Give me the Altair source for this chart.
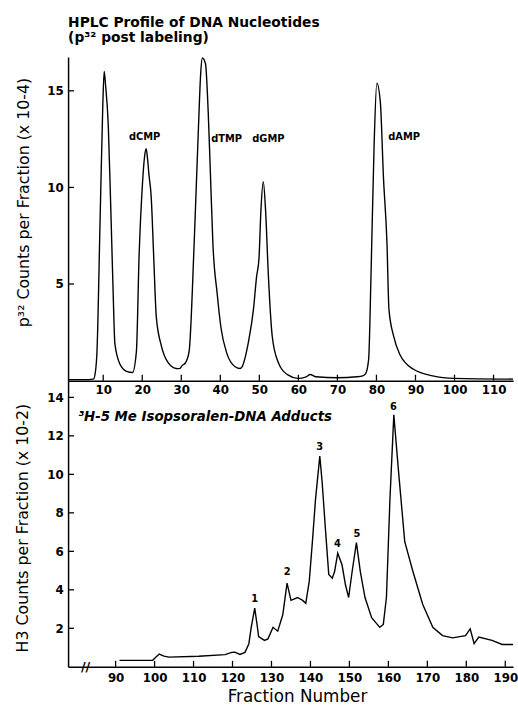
import altair as alt
import pandas as pd

# ---------------- data ----------------
top_x = [1, 5, 7.5, 8.0, 8.4, 9.2, 9.9, 10.25, 10.6, 11.3, 11.9, 12.5, 13.0, 14.3, 16.0, 17.5,
         18.5, 19.2, 20.0, 20.6, 21.0, 21.4, 21.7, 22.3, 22.9, 23.6, 24.9, 26.5, 28.7, 29.5, 30.3,
         31.0, 32.0, 33.3, 34.4, 35.0, 35.4, 36.2, 36.9, 37.5, 38.1, 39.2, 40.2, 41.7, 43.8, 45.1,
         45.5, 47.2, 48.5, 49.3, 49.9, 50.4, 51.0, 51.6, 52.3, 53.3, 54.8, 57.3, 59.9, 62.0, 63.0,
         64.5, 70.0, 75.0, 76.5, 77.2, 78.0, 78.6, 79.4, 80.1, 81.0, 81.8, 82.7, 83.2, 84.4, 86.0,
         89.4, 94.4, 100.0, 115.0]
top_y = [0.05, 0.05, 0.08, 0.45, 1.5, 8.3, 14.3, 16.0, 15.3, 13.2, 9.2, 4.9, 1.9, 0.85, 0.48, 0.42,
         1.5, 6.5, 10.0, 11.6, 12.0, 11.4, 10.7, 9.5, 6.6, 3.3, 1.8, 0.97, 0.63, 0.62, 0.8,
         0.9, 1.5, 7.1, 13.1, 16.0, 16.7, 16.4, 13.9, 10.5, 7.1, 4.5, 2.7, 1.4, 0.72, 0.63,
         0.7, 2.0, 3.7, 5.4, 6.3, 8.8, 10.3, 8.8, 5.5, 2.3, 0.97, 0.3, 0.12, 0.2, 0.32,
         0.2, 0.15, 0.2, 0.25, 0.35, 1.1, 5.4, 12.2, 15.4, 14.4, 10.5, 7.1, 3.7, 2.3, 1.35,
         0.6, 0.25, 0.12, 0.08]

bot_x = [91.0, 99.5, 100.3, 101.2, 102.4, 103.7, 111.3, 118.1, 119.8, 120.6, 121.9, 123.2, 124.2,
         124.8, 125.7, 126.4, 126.7, 128.2, 129.1, 130.4, 131.6, 132.9, 134.0, 135.0, 136.7, 138.0,
         138.8, 139.7, 140.5, 141.3, 142.4, 143.0, 143.9, 144.7, 145.6, 146.2, 147.0, 148.1, 149.0,
         149.8, 150.7, 151.8, 152.8, 154.0, 155.7, 157.8, 158.7, 159.5, 160.4, 161.4, 162.5, 164.2,
         166.3, 168.8, 171.4, 173.9, 176.5, 179.8, 181.0, 182.0, 183.2, 186.6, 189.2, 192.0]
bot_y = [0.33, 0.34, 0.5, 0.66, 0.55, 0.5, 0.55, 0.63, 0.75, 0.76, 0.64, 0.75, 1.2,
         2.05, 3.05, 2.05, 1.57, 1.37, 1.45, 2.05, 1.85, 2.7, 4.35, 3.45, 3.6, 3.45,
         3.3, 4.45, 6.5, 8.7, 10.95, 9.6, 7.0, 4.8, 4.6, 4.95, 5.9, 5.3, 4.25,
         3.6, 4.95, 6.45, 4.95, 3.6, 2.55, 2.05, 2.2, 3.6, 8.7, 13.1, 10.4, 6.5,
         4.95, 3.25, 2.05, 1.62, 1.5, 1.62, 1.97, 1.2, 1.54, 1.37, 1.16, 1.16]

top_labels = ["dCMP", "dTMP", "dGMP", "dAMP"]
top_label_x = [20.6, 41.6, 52.3, 87.1]
top_label_y = [12.6, 12.5, 12.5, 12.6]

bot_labels = ["1", "2", "3", "4", "5", "6"]
bot_label_x = [125.7, 134.0, 142.4, 146.9, 151.9, 161.3]
bot_label_y = [3.5, 4.9, 11.4, 6.4, 6.9, 13.5]

top_xticks = [10, 20, 30, 40, 50, 60, 70, 80, 90, 100, 110]
top_yticks = [5, 10, 15]
bot_xticks = [90, 100, 110, 120, 130, 140, 150, 160, 170, 180, 190]
bot_yticks = [2, 4, 6, 8, 10, 12, 14]

top_title = "HPLC Profile of DNA Nucleotides"
top_subtitle = "(p³² post labeling)"
top_ytitle = "p³² Counts per Fraction (x 10-4)"
bot_ytitle = "H3 Counts per Fraction (x 10-2)"
bot_xtitle = "Fraction Number"
bot_panel_title = ["³H-5 Me Isopsoralen-DNA Adducts"]
bot_panel_title_x = [80.4]
bot_panel_title_y = [12.97]
break_mark = ["//"]
break_x = [82.3]
break_y = [0.0]

# ---------------- frames ----------------
df_top = pd.DataFrame({"x": top_x, "y": top_y})
df_bot = pd.DataFrame({"x": bot_x, "y": bot_y})
df_tl = pd.DataFrame({"x": top_label_x, "y": top_label_y, "t": top_labels})
df_bl = pd.DataFrame({"x": bot_label_x, "y": bot_label_y, "t": bot_labels})
df_txt = pd.DataFrame({"x": top_xticks})
df_tyt = pd.DataFrame({"y": top_yticks})
df_bxt = pd.DataFrame({"x": bot_xticks})
df_byt = pd.DataFrame({"y": bot_yticks})
df_bpt = pd.DataFrame({"x": bot_panel_title_x, "y": bot_panel_title_y, "t": bot_panel_title})
df_brk = pd.DataFrame({"x": break_x, "y": break_y, "t": break_mark})

W = 451
H1 = 328
H2 = 290
FONT = "DejaVu Sans"

xs_top = alt.Scale(domain=[1, 115], nice=False, zero=False)
ys_top = alt.Scale(domain=[0, 16.75], nice=False)
xs_bot = alt.Scale(domain=[77.8, 192], nice=False, zero=False)
ys_bot = alt.Scale(domain=[0, 14.87], nice=False)

common_axis = dict(ticks=False, grid=False, domainColor="black", domainWidth=1.5,
                   labelColor="black", labelFont=FONT, labelFontSize=12,
                   labelFontWeight="bold", titleColor="black", titleFont=FONT,
                   titleFontWeight="normal")

ax_top_x = alt.Axis(values=top_xticks, title=None, labelPadding=4, **common_axis)
ax_top_y = alt.Axis(values=top_yticks, title=top_ytitle, labelPadding=5, titleFontSize=16,
                    titleAngle=270, titleX=-45, titleY=147, titleAlign="center",
                    titleBaseline="middle", **common_axis)
ax_bot_x = alt.Axis(values=bot_xticks, title=bot_xtitle, labelPadding=6, titlePadding=5,
                    titleX=232, titleFontSize=17, **common_axis)
ax_bot_y = alt.Axis(values=bot_yticks, title=bot_ytitle, labelPadding=5, titleFontSize=16,
                    titleAngle=270, titleX=-46, titleY=149, titleAlign="center",
                    titleBaseline="middle", **common_axis)

X_top = lambda f="x": alt.X(f"{f}:Q", scale=xs_top, axis=ax_top_x, title=None)
Y_top = lambda f="y": alt.Y(f"{f}:Q", scale=ys_top, axis=ax_top_y, title=top_ytitle)
X_bot = lambda f="x": alt.X(f"{f}:Q", scale=xs_bot, axis=ax_bot_x, title=bot_xtitle)
Y_bot = lambda f="y": alt.Y(f"{f}:Q", scale=ys_bot, axis=ax_bot_y, title=bot_ytitle)

# ---------------- top panel ----------------
top_line = alt.Chart(df_top).mark_line(color="black", strokeWidth=1.4, interpolate="monotone").encode(
    x=X_top(), y=Y_top())
top_lab = alt.Chart(df_tl).mark_text(font=FONT, fontSize=10, fontWeight="bold", color="black",
                                     baseline="middle").encode(x=X_top(), y=Y_top(), text="t:N")
top_xt = alt.Chart(df_txt).mark_rule(color="black", strokeWidth=1.3).encode(
    x=X_top(), y=alt.value(H1), y2=alt.value(H1 - 6))
top_yt = alt.Chart(df_tyt).mark_rule(color="black", strokeWidth=1.3).encode(
    y=Y_top(), x=alt.value(0), x2=alt.value(6))

top = alt.layer(top_line, top_lab, top_xt, top_yt).properties(
    width=W, height=H1,
    title=alt.TitleParams(text=top_title, subtitle=top_subtitle, anchor="start", frame="group",
                          font=FONT, fontSize=14, fontWeight="bold", color="black",
                          subtitleFont=FONT, subtitleFontSize=14, subtitleFontWeight="bold",
                          subtitleColor="black", subtitlePadding=2, offset=10))

# ---------------- bottom panel ----------------
bot_line = alt.Chart(df_bot).mark_line(color="black", strokeWidth=1.4).encode(x=X_bot(), y=Y_bot())
bot_lab = alt.Chart(df_bl).mark_text(font=FONT, fontSize=10, fontWeight="bold", color="black",
                                     baseline="middle").encode(x=X_bot(), y=Y_bot(), text="t:N")
bot_pt = alt.Chart(df_bpt).mark_text(font=FONT, fontSize=13.5, fontWeight="bold", fontStyle="italic",
                                     color="black", align="left", baseline="middle").encode(
    x=X_bot(), y=Y_bot(), text="t:N")
bot_brk = alt.Chart(df_brk).mark_text(font=FONT, fontSize=13, fontWeight="bold", color="black",
                                      baseline="middle").encode(x=X_bot(), y=Y_bot(), text="t:N")
bot_xt = alt.Chart(df_bxt).mark_rule(color="black", strokeWidth=1.3).encode(
    x=X_bot(), y=alt.value(H2), y2=alt.value(H2 - 6))
bot_yt = alt.Chart(df_byt).mark_rule(color="black", strokeWidth=1.3).encode(
    y=Y_bot(), x=alt.value(0), x2=alt.value(6))

bottom = alt.layer(bot_line, bot_lab, bot_pt, bot_brk, bot_xt, bot_yt).properties(width=W, height=H2)

chart = alt.vconcat(top, bottom, spacing=0, bounds="flush").properties(
    padding={"left": 14, "top": 11, "right": 0, "bottom": 0},
    background="white",
).configure_view(stroke=None)

chart.save("out.html", embed_options={"renderer": "svg", "actions": False})
